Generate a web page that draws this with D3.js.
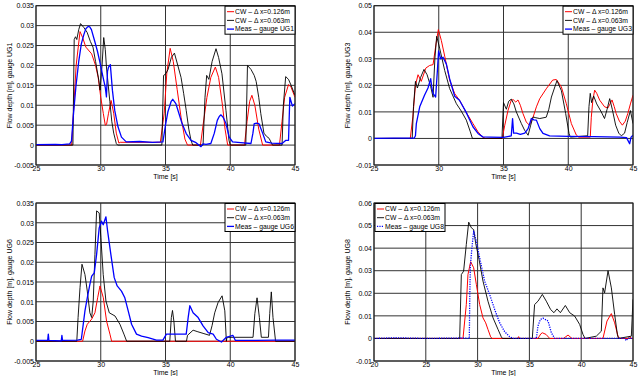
<!DOCTYPE html>
<html>
<head>
<meta charset="utf-8">
<script src="https://cdn.jsdelivr.net/npm/d3@7"></script>
<style>
  body { margin: 0; background: #fff; }
  svg text { font-family: "Liberation Sans", Arial, sans-serif; fill: #000; }
</style>
</head>
<body>
<div id="chart"></div>
<script>
// ---- data ----
// gauge UG1
var ug1Coarse = [[25,0],[27.75,0],[28.1,0.02],[28.4,0.0285],[28.6,0.027],[28.85,0.0246],[29.3,0.0229],[29.6,0.02],[29.8,0.017],[30.0,0.012],[30.2,0.0079],[30.35,0.005],[30.45,0.0052],[30.6,0.008],[30.8,0.0112],[31.0,0.008],[31.2,0.003],[31.4,0.0005],[31.5,0.0007],[34.6,0.0007],[34.9,0.008],[35.1,0.018],[35.36,0.0243],[35.6,0.021],[35.9,0.014],[36.2,0.007],[36.5,0.0015],[36.7,0],[37.7,0],[37.9,0.005],[38.2,0.012],[38.5,0.017],[38.85,0.0196],[39.1,0.017],[39.4,0.01],[39.6,0.004],[39.8,0],[41.1,0],[41.3,0.006],[41.5,0.011],[41.67,0.0125],[41.9,0.01],[42.2,0.004],[42.5,0],[43.8,0],[44.0,0.006],[44.2,0.012],[44.5,0.0152],[44.7,0.0145],[45,0.012]];
var ug1Fine = [[25,0],[27.85,0],[27.95,0.0265],[28.05,0.0272],[28.15,0.0265],[28.3,0.029],[28.44,0.0305],[28.7,0.0295],[28.95,0.0283],[29.2,0.026],[29.4,0.0246],[29.6,0.021],[29.85,0.0163],[29.95,0.0138],[30.1,0.02],[30.23,0.027],[30.35,0.024],[30.44,0.0196],[30.7,0.011],[30.85,0.006],[31.0,0.003],[31.2,0.0004],[31.3,0],[34.72,0],[34.85,0.0175],[35.0,0.0178],[35.2,0.019],[35.45,0.022],[35.69,0.0231],[35.95,0.02],[36.2,0.017],[36.4,0.013],[36.6,0.0087],[36.8,0.004],[36.97,0.0012],[37.1,0],[37.9,0],[38.05,0.012],[38.18,0.0175],[38.35,0.0165],[38.6,0.021],[38.9,0.0242],[39.1,0.022],[39.36,0.0179],[39.67,0.0087],[39.9,0.0012],[40.0,0],[41.2,0],[41.33,0.02],[41.6,0.019],[41.85,0.0175],[42.0,0.016],[42.2,0.012],[42.36,0.0079],[42.6,0.003],[42.8,0.0022],[43.0,0.0017],[43.26,0],[44.0,0],[44.1,0.01],[44.28,0.0172],[44.5,0.0165],[44.7,0.015],[45,0.0125]];
var ug1Meas = [[25,0.0001],[26.5,0.0002],[27.0,0.0001],[27.6,0.0003],[27.74,0.001],[27.9,0.008],[28.08,0.0146],[28.3,0.021],[28.5,0.0254],[28.7,0.0278],[28.85,0.0292],[29.03,0.0298],[29.15,0.0297],[29.28,0.029],[29.54,0.026],[29.75,0.0235],[29.92,0.021],[30.18,0.017],[30.35,0.0145],[30.44,0.0121],[30.52,0.0185],[30.6,0.0196],[30.74,0.0202],[30.82,0.017],[30.9,0.0138],[31.08,0.0087],[31.33,0.0046],[31.6,0.002],[31.97,0.0008],[33.0,0.0009],[34.0,0.0007],[34.8,0.0008],[35.0,0.005],[35.18,0.0083],[35.44,0.011],[35.56,0.0115],[35.8,0.0104],[36.08,0.0075],[36.28,0.0054],[36.6,0.0029],[36.97,0.0012],[37.36,0.0006],[37.74,-0.0004],[37.9,0.0003],[38.13,0.0002],[38.5,0.0004],[38.77,0.003],[39.0,0.0062],[39.15,0.0072],[39.28,0.0076],[39.45,0.007],[39.67,0.0054],[39.92,0.002],[40.18,0.0008],[40.8,0.0006],[41.6,0.0004],[41.75,0.003],[41.85,0.0054],[42.05,0.0055],[42.23,0.0053],[42.5,0.003],[42.74,0.0008],[43.2,0.0005],[44.0,0.0004],[44.3,0.0012],[44.5,0.0012],[44.6,0.012],[44.8,0.0098],[45,0.0104]];

// gauge UG3
var ug3Coarse = [[25,0],[27.8,0],[28.0,0.0081],[28.2,0.02],[28.4,0.024],[28.65,0.0215],[29.0,0.0265],[29.3,0.0275],[29.56,0.0278],[29.8,0.036],[29.97,0.041],[30.2,0.0369],[30.46,0.031],[30.84,0.022],[31.23,0.0169],[31.6,0.0144],[32.1,0.01],[32.64,0.0056],[33.03,0.0025],[33.37,0.0006],[33.6,0],[34.9,0],[35.1,0.005],[35.35,0.0106],[35.6,0.0144],[35.75,0.0146],[35.95,0.0137],[36.12,0.0145],[36.3,0.0125],[36.5,0.0094],[36.76,0.0062],[37.0,0.005],[37.25,0.0075],[37.54,0.0119],[37.8,0.015],[38.3,0.0187],[38.8,0.022],[39.08,0.0222],[39.47,0.0194],[39.85,0.0131],[40.24,0.0056],[40.62,0.0013],[40.8,0.0005],[41.7,0.0005],[41.78,0.008],[41.9,0.0144],[42.04,0.0182],[42.2,0.017],[42.43,0.0144],[42.81,0.0119],[43.07,0.0115],[43.38,0.0145],[43.55,0.012],[43.7,0.0094],[43.95,0.0065],[44.18,0.005],[44.4,0.0065],[44.6,0.0094],[44.8,0.013],[45,0.0163]];
var ug3Fine = [[25,0],[27.95,0],[28.05,0.012],[28.2,0.0215],[28.35,0.019],[28.6,0.023],[28.86,0.026],[29.1,0.024],[29.38,0.0195],[29.56,0.0155],[29.7,0.03],[29.84,0.0385],[30.07,0.034],[30.46,0.0256],[30.84,0.0188],[31.36,0.0131],[31.74,0.0103],[32.13,0.0069],[32.44,0.0025],[32.6,0],[34.88,0],[35.0,0.0135],[35.22,0.011],[35.4,0.014],[35.6,0.0148],[35.8,0.013],[35.99,0.01],[36.38,0.0056],[36.64,0.003],[36.9,0.0012],[37.1,0.005],[37.28,0.0081],[37.5,0.0078],[37.8,0.0075],[38.3,0.008],[38.5,0.011],[38.7,0.0156],[39.13,0.0218],[39.47,0.018],[39.8,0.0094],[40.06,0.0019],[40.16,0.0005],[41.5,0.001],[41.6,0.012],[41.7,0.017],[41.8,0.0135],[41.96,0.016],[42.2,0.013],[42.55,0.01],[42.8,0.0075],[43.0,0.011],[43.2,0.015],[43.4,0.011],[43.66,0.005],[43.9,0.002],[44.1,0.001],[44.35,0.002],[44.55,0.006],[44.8,0.0105],[45,0.0056]];
var ug3Meas = [[25,0],[26.5,0.0001],[28.1,0.0001],[28.2,0.001],[28.27,0.0056],[28.53,0.0119],[28.9,0.0163],[29.17,0.019],[29.38,0.0225],[29.47,0.019],[29.56,0.017],[29.76,0.0156],[29.9,0.026],[29.99,0.033],[30.15,0.03],[30.33,0.0306],[30.59,0.028],[30.84,0.0225],[31.23,0.0159],[31.6,0.0144],[32.1,0.01],[32.64,0.0044],[33.03,0.0019],[33.4,0.0006],[34.0,0.0005],[35.0,0.0004],[35.6,0.001],[35.7,0.0075],[35.78,0.002],[36.0,0.002],[36.3,0.0015],[36.64,0.002],[36.9,0.0037],[37.15,0.0075],[37.35,0.007],[37.54,0.0069],[37.8,0.0037],[38.05,0.0019],[38.56,0.001],[40,0.0008],[42,0.0007],[44,0.0005],[44.5,0.0003],[44.74,-0.002],[44.85,0.0005],[45,0.0012]];

// gauge UG6
var ug6Coarse = [[25,0],[28.6,0],[28.78,0.0026],[28.96,0.0043],[29.3,0.0056],[29.55,0.0072],[29.76,0.011],[29.94,0.014],[30.2,0.011],[30.45,0.0051],[30.71,0.0018],[30.84,0],[45,0]];
var ug6Fine = [[25,0],[28.15,0],[28.25,0.006],[28.4,0.0136],[28.55,0.0195],[28.78,0.0169],[28.96,0.0127],[29.16,0.0072],[29.3,0.006],[29.42,0.0102],[29.55,0.022],[29.68,0.033],[29.88,0.0325],[30.01,0.0262],[30.19,0.0169],[30.4,0.0102],[30.66,0.0072],[31.1,0.0064],[31.48,0.0043],[31.79,0.0018],[32.0,0],[35.33,0],[35.45,0.006],[35.54,0.0078],[35.65,0.005],[35.77,0],[36.62,0],[36.7,0.0015],[37.13,0.0028],[37.5,0.0024],[37.9,0.002],[38.4,0.0015],[38.6,0.004],[38.8,0.0072],[39.06,0.0098],[39.37,0.0115],[39.58,0.0077],[39.7,0],[39.75,0.001],[41.76,0.001],[41.9,0.007],[42.07,0.011],[42.25,0.006],[42.4,0.001],[42.95,0.001],[43.05,0.007],[43.17,0.0125],[43.3,0.006],[43.5,0],[45,0]];
var ug6Meas = [[25,0.0002],[25.9,0.0002],[25.95,0.0018],[26.0,0.0002],[26.95,0.0001],[27.0,0.0015],[27.05,0.0002],[28.2,0.0003],[28.5,0.0005],[28.78,0.0077],[28.96,0.011],[29.16,0.0144],[29.3,0.0165],[29.5,0.0173],[29.68,0.022],[29.88,0.0287],[30.06,0.0304],[30.19,0.0295],[30.4,0.0315],[30.53,0.0279],[30.78,0.022],[31.04,0.0161],[31.27,0.014],[31.6,0.0127],[31.86,0.011],[32.12,0.0077],[32.38,0.0043],[32.76,0.0018],[33.15,0.0013],[33.66,0.0009],[34.3,0.0003],[34.8,0.0003],[35.07,0.0018],[36.6,0.0018],[36.75,0.006],[36.88,0.009],[37.13,0.0072],[37.52,0.006],[37.9,0.0039],[38.3,0.0022],[38.68,0.0018],[38.93,0.0005],[39.32,-0.0002],[39.7,0.001],[40.2,0.0015],[40.4,0.0002],[42.0,0.0002],[43.5,0.0003],[45,0.0003]];

// gauge UG8
var ug8Coarse = [[20,0],[28.59,0],[28.91,0.015],[29.07,0.0283],[29.33,0.034],[29.62,0.0313],[29.88,0.0239],[30.2,0.015],[30.52,0.0091],[30.78,0.0069],[31.0,0.004],[31.26,0.0007],[31.4,0],[33.85,0],[33.96,0.0008],[34.05,0],[35.83,0],[36.1,0.002],[36.25,0.0025],[36.6,0.0018],[36.96,0],[38.3,0],[38.73,0.0015],[39.1,0],[42.1,0],[42.49,0.0077],[42.91,0.011],[43.23,0.0069],[43.55,0.001],[43.7,0],[44.55,0],[44.68,0.001],[44.8,0],[45,0]];
var ug8Fine = [[20,0],[28.27,0],[28.43,0.0283],[28.65,0.0298],[28.91,0.0416],[29.14,0.0515],[29.4,0.049],[29.62,0.0482],[29.81,0.0423],[30.14,0.035],[30.52,0.0254],[31.0,0.0165],[31.49,0.0091],[31.97,0.004],[32.29,0.0007],[32.4,0],[35.28,0],[35.5,0.015],[35.83,0.0165],[36.25,0.0195],[36.63,0.0165],[37.05,0.0128],[37.37,0.0114],[37.66,0.0131],[37.99,0.0114],[38.47,0.0146],[38.89,0.0114],[39.37,0.0099],[39.85,0.0062],[40.17,0.0018],[40.37,0],[41.46,0.001],[41.94,0.0032],[42.1,0.0224],[42.26,0.0202],[42.59,0.030],[42.91,0.0224],[43.23,0.0106],[43.49,0.0018],[43.6,0],[44.84,0.001],[45,0.0173]];
var ug8Meas = [[20,0],[22,0.0003],[25,0],[28.5,0.0002],[29.2,0],[29.25,0.02],[29.3,0.032],[29.45,0.04],[29.62,0.0475],[29.88,0.043],[30.2,0.0357],[30.68,0.0254],[31.16,0.0195],[31.65,0.0128],[32.13,0.0069],[32.61,0.003],[33.1,0.0007],[33.42,0],[35.67,0],[35.83,0.0055],[36.06,0.0084],[36.31,0.009],[36.8,0.0077],[37.12,0.0025],[37.44,0],[44.2,0],[44.35,-0.001],[44.5,0],[45,0]];

// ticks
var xTicksA = [25, 30, 35, 40, 45];
var xTicksB = [20, 25, 30, 35, 40, 45];
var yTicksUG1 = [-0.005, 0, 0.005, 0.01, 0.015, 0.02, 0.025, 0.03, 0.035];
var yTicksUG3 = [-0.01, 0, 0.01, 0.02, 0.03, 0.04, 0.05];
var yTicksUG8 = [-0.01, 0, 0.01, 0.02, 0.03, 0.04, 0.05, 0.06];

var seriesNames = ["CW \u2013 \u0394 x=0.126m", "CW \u2013 \u0394 x=0.063m"];

var panels = [
  {gauge: "UG1", box: [36, 5.7, 295, 165], xd: [25, 45], xt: xTicksA, yd: [-0.005, 0.035], yt: yTicksUG1,
   data: [ug1Coarse, ug1Fine, ug1Meas], legend: "right", dotted: false},
  {gauge: "UG3", box: [374, 5.7, 633, 165], xd: [25, 45], xt: xTicksA, yd: [-0.01, 0.05], yt: yTicksUG3,
   data: [ug3Coarse, ug3Fine, ug3Meas], legend: "right", dotted: false},
  {gauge: "UG6", box: [36, 203, 295, 361], xd: [25, 45], xt: xTicksA, yd: [-0.005, 0.035], yt: yTicksUG1,
   data: [ug6Coarse, ug6Fine, ug6Meas], legend: "right", dotted: false},
  {gauge: "UG8", box: [374, 203, 633, 361], xd: [20, 45], xt: xTicksB, yd: [-0.01, 0.06], yt: yTicksUG8,
   data: [ug8Coarse, ug8Fine, ug8Meas], legend: "left", dotted: true}
];

var colors = ["#ff0000", "#000000", "#0000ff"];
var widths = [1, 0.9, 1.3];

var svg = d3.select("#chart").append("svg")
    .attr("width", 643)
    .attr("height", 376);

var fmt = function(v) { return String(+v.toFixed(4)); };

panels.forEach(function(p, i) {
  var x = d3.scaleLinear().domain(p.xd).range([p.box[0], p.box[2]]);
  var y = d3.scaleLinear().domain(p.yd).range([p.box[3], p.box[1]]);
  var g = svg.append("g");

  // grid
  g.append("g").selectAll("line").data(p.xt).enter().append("line")
    .attr("x1", d => x(d)).attr("x2", d => x(d))
    .attr("y1", p.box[1]).attr("y2", p.box[3])
    .attr("stroke", "#333").attr("stroke-width", 1);
  g.append("g").selectAll("line").data(p.yt).enter().append("line")
    .attr("x1", p.box[0]).attr("x2", p.box[2])
    .attr("y1", d => y(d)).attr("y2", d => y(d))
    .attr("stroke", "#333").attr("stroke-width", 1);

  // axes
  var xa = g.append("g").attr("transform", "translate(0," + p.box[3] + ")")
    .call(d3.axisBottom(x).tickValues(p.xt).tickSize(0).tickPadding(1).tickFormat(d3.format("d")));
  var ya = g.append("g").attr("transform", "translate(" + p.box[0] + ",0)")
    .call(d3.axisLeft(y).tickValues(p.yt).tickSize(0).tickPadding(2).tickFormat(fmt));
  [xa, ya].forEach(function(a) {
    a.select(".domain").remove();
    a.selectAll("text").attr("font-size", 7).attr("font-family", "Liberation Sans, Arial, sans-serif");
  });

  // lines
  var clipId = "clip" + i;
  svg.append("clipPath").attr("id", clipId).append("rect")
    .attr("x", p.box[0]).attr("y", p.box[1])
    .attr("width", p.box[2] - p.box[0]).attr("height", p.box[3] - p.box[1]);
  var line = d3.line().x(d => x(d[0])).y(d => y(d[1]));
  var lg = g.append("g").attr("clip-path", "url(#" + clipId + ")");
  p.data.forEach(function(s, k) {
    lg.append("path").datum(s)
      .attr("d", line)
      .attr("fill", "none")
      .attr("stroke", colors[k])
      .attr("stroke-width", widths[k])
      .attr("stroke-dasharray", (k == 2 && p.dotted) ? "1.2,1.2" : null)
      .attr("stroke-linejoin", "round");
  });

  // frame
  g.append("rect")
    .attr("x", p.box[0]).attr("y", p.box[1])
    .attr("width", p.box[2] - p.box[0]).attr("height", p.box[3] - p.box[1])
    .attr("fill", "none").attr("stroke", "#222").attr("stroke-width", 1);

  // labels
  g.append("text")
    .attr("x", (p.box[0] + p.box[2]) / 2).attr("y", p.box[3] + 14)
    .attr("text-anchor", "middle").attr("font-size", 7)
    .text("Time [s]");
  g.append("text")
    .attr("transform", "translate(" + (p.box[0] - 24) + "," + ((p.box[1] + p.box[3]) / 2) + ") rotate(-90)")
    .attr("text-anchor", "middle").attr("font-size", 7)
    .text("Flow depth [m], gauge " + p.gauge);

  // legend
  var names = seriesNames.concat(["Meas \u2013 gauge " + p.gauge]);
  var lw = 70, lh = 28;
  var lx = p.legend == "right" ? p.box[2] - lw : p.box[0] + 1;
  var ly = p.box[1] + 0.5;
  var leg = g.append("g").attr("transform", "translate(" + lx + "," + ly + ")");
  leg.append("rect").attr("width", lw).attr("height", lh)
    .attr("fill", "#fff").attr("stroke", "#000").attr("stroke-width", 1);
  names.forEach(function(n, k) {
    var yy = 5.5 + k * 8.7;
    leg.append("line").attr("x1", 2).attr("x2", 9).attr("y1", yy).attr("y2", yy)
      .attr("stroke", colors[k]).attr("stroke-width", widths[k])
      .attr("stroke-dasharray", (k == 2 && p.dotted) ? "1.2,1.2" : null);
    leg.append("text").attr("x", 10).attr("y", yy + 2.4)
      .attr("font-size", 6.8).text(n);
  });
});
</script>
</body>
</html>
